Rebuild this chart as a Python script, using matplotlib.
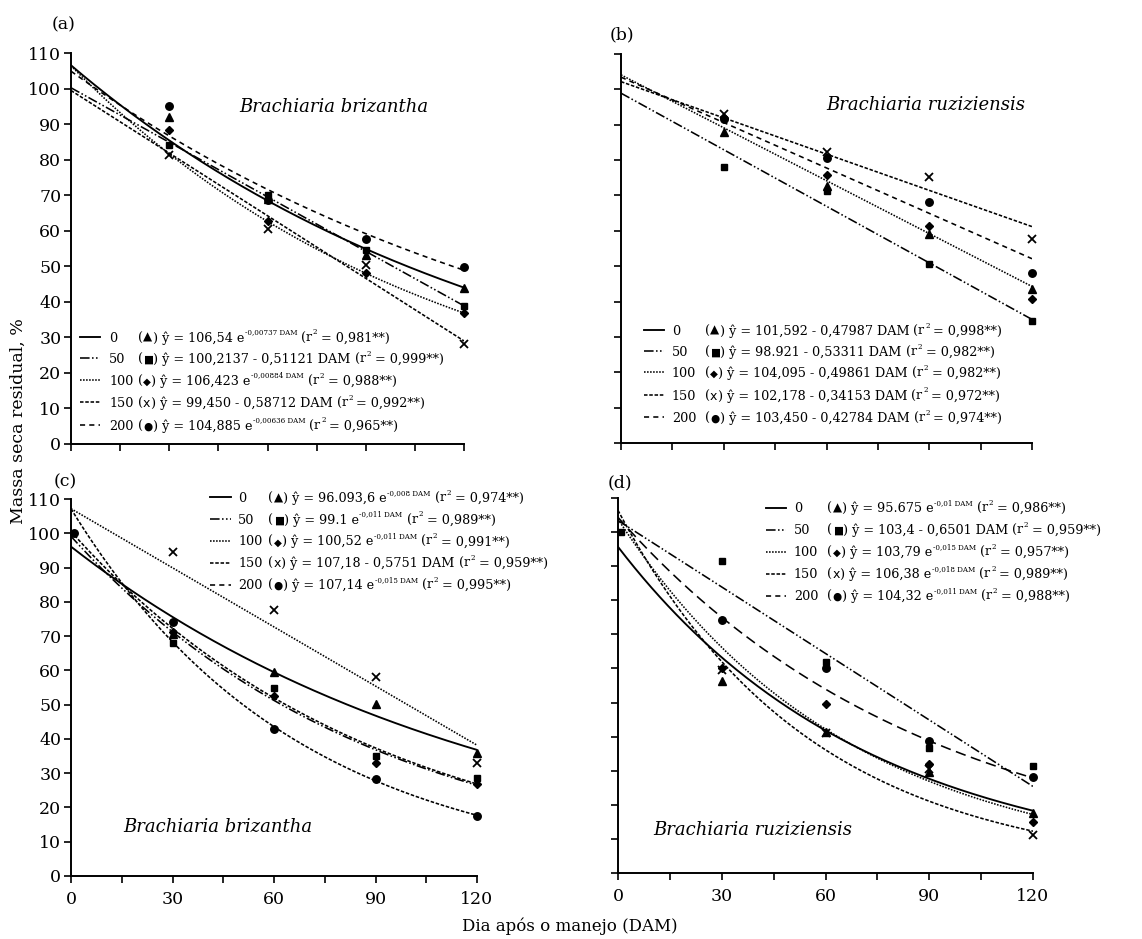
import matplotlib
matplotlib.use('Agg')
import matplotlib.pyplot as plt
import numpy as np

plt.rcParams['font.family'] = ['DejaVu Serif', 'DejaVu Sans']
plt.rcParams['mathtext.fontset'] = 'dejavuserif'

# ---------------- data ----------------
days = [30, 60, 90, 120]
day_start = 1
treatments = ['0', '50', '100', '150', '200']

# panel (a) Brachiaria brizantha
a_tri = [92.0, 69.0, 53.2, 43.8]
a_sq = [84.0, 70.1, 54.6, 38.9]
a_dia = [88.3, 62.8, 48.1, 36.8]
a_x = [81.2, 60.4, 50.4, 28.1]
a_circ = [95.2, 68.7, 57.7, 49.9]

# panel (b) Brachiaria ruziziensis
b_tri = [87.9, 72.8, 59.0, 43.5]
b_sq = [78.0, 71.4, 50.5, 34.5]
b_dia = [91.8, 75.8, 61.5, 40.7]
b_x = [93.1, 82.4, 75.1, 57.6]
b_circ = [91.5, 80.7, 68.2, 48.2]

# panel (c) Brachiaria brizantha
c_start_circ = 100.0
c_tri = [70.5, 59.6, 50.2, 35.8]
c_sq = [68.1, 54.9, 35.0, 28.6]
c_dia = [71.3, 52.6, 33.0, 26.8]
c_x = [94.4, 77.5, 58.0, 33.0]
c_circ = [74.0, 42.8, 28.3, 17.4]

# panel (d) Brachiaria ruziziensis
d_start_sq = 100.0
d_tri = [56.2, 41.5, 29.5, 17.6]
d_sq = [91.4, 61.9, 36.7, 31.5]
d_dia = [60.0, 49.7, 32.1, 15.0]
d_x = [59.5, 41.1, 30.5, 11.2]
d_circ = [74.2, 60.2, 38.8, 28.2]

# fitted models (kind, intercept, rate) per treatment, as drawn
a_kind = ['exp', 'lin', 'exp', 'lin', 'exp']
a_int = [106.54, 100.2137, 106.423, 99.450, 104.885]
a_rate = [0.00737, 0.51121, 0.00884, 0.58712, 0.00636]

b_kind = ['lin', 'lin', 'lin', 'lin']
b_int = [98.921, 104.095, 102.178, 103.450]
b_rate = [0.53311, 0.49861, 0.34153, 0.42784]

c_kind = ['exp', 'exp', 'exp', 'lin', 'exp']
c_int = [96.0936, 99.1, 100.52, 107.18, 107.14]
c_rate = [0.008, 0.011, 0.011, 0.5751, 0.015]

d_kind = ['exp', 'lin', 'exp', 'exp', 'exp']
d_int = [95.675, 103.4, 103.79, 106.38, 104.32]
d_rate = [0.0138, 0.6501, 0.015, 0.018, 0.011]

# legend equation texts: (main, superscript, r2)
a_eq = [('ŷ = 106,54 e', '-0,00737 DAM', '0,981'),
        ('ŷ = 100,2137 - 0,51121 DAM', '', '0,999'),
        ('ŷ = 106,423 e', '-0,00884 DAM', '0,988'),
        ('ŷ = 99,450 - 0,58712 DAM', '', '0,992'),
        ('ŷ = 104,885 e', '-0,00636 DAM', '0,965')]
b_eq = [('ŷ = 101,592 - 0,47987 DAM', '', '0,998'),
        ('ŷ = 98.921 - 0,53311 DAM', '', '0,982'),
        ('ŷ = 104,095 - 0,49861 DAM', '', '0,982'),
        ('ŷ = 102,178 - 0,34153 DAM', '', '0,972'),
        ('ŷ = 103,450 - 0,42784 DAM', '', '0,974')]
c_eq = [('ŷ = 96.093,6 e', '-0,008 DAM', '0,974'),
        ('ŷ = 99.1 e', '-0,011 DAM', '0,989'),
        ('ŷ = 100,52 e', '-0,011 DAM', '0,991'),
        ('ŷ = 107,18 - 0,5751 DAM', '', '0,959'),
        ('ŷ = 107,14 e', '-0,015 DAM', '0,995')]
d_eq = [('ŷ = 95.675 e', '-0,01 DAM', '0,986'),
        ('ŷ = 103,4 - 0,6501 DAM', '', '0,959'),
        ('ŷ = 103,79 e', '-0,015 DAM', '0,957'),
        ('ŷ = 106,38 e', '-0,018 DAM', '0,989'),
        ('ŷ = 104,32 e', '-0,011 DAM', '0,988')]

# ---------------- styles ----------------
LS_SOLID = '-'
LS_DDOT = (0, (6, 1.5, 1, 1.5, 1, 1.5))
LS_DOT = (0, (1, 0.9))
LS_SHORT = (0, (2.2, 1.1))
LS_DASH = (0, (3.2, 2.6))
LS_LONG = (0, (6.5, 3.5))
legend_styles = [LS_SOLID, LS_DDOT, LS_DOT, LS_SHORT, LS_DASH]
symbols = ['▲', '■', '◆', 'x', '●']
sym_sizes = [8.6, 7.6, 7.4, 9.0, 7.6]
markers = dict(tri=('^', 5.8), sq=('s', 5.0), dia=('D', 4.3), x=('x', 5.2), circ=('o', 5.4))

W, H = 1142, 939
fig = plt.figure(figsize=(W / 100, H / 100), dpi=100)


def add_ax(l, t, r, b):
    return fig.add_axes([l / W, 1 - b / H, (r - l) / W, (b - t) / H])


axA = add_ax(71, 53, 464, 444)
axB = add_ax(621, 54, 1032, 443)
axC = add_ax(71, 499, 477, 876)
axD = add_ax(618, 498, 1033, 873)

xx = np.linspace(0, 120, 200)


def model(kind, a, b):
    if kind == 'exp':
        return a * np.exp(-b * xx)
    return a - b * xx


def draw_models(ax, kinds, ints, rates, styles):
    for k, a, b, ls in zip(kinds, ints, rates, styles):
        lw = 1.35 if ls == '-' else 1.15
        ax.plot(xx, model(k, a, b), color='black', lw=lw, linestyle=ls, zorder=2)


def draw_points(ax, series):
    for key, vals in series:
        m, ms = markers[key]
        if key == 'x':
            ax.plot(days, vals, linestyle='none', marker=m, ms=ms, mew=1.3,
                    color='black', clip_on=False, zorder=4)
        else:
            ax.plot(days, vals, linestyle='none', marker=m, ms=ms, color='black',
                    mec='black', clip_on=False, zorder=4)


def style_axes(ax, xlabels, ylabels):
    ax.set_xlim(0, 120)
    ax.set_ylim(0, 110)
    for s in ['top', 'right']:
        ax.spines[s].set_visible(False)
    for s in ['left', 'bottom']:
        ax.spines[s].set_linewidth(1.4)
    ax.set_xticks(np.arange(0, 121, 15))
    if xlabels:
        ax.set_xticklabels([str(v) if v % 30 == 0 else '' for v in range(0, 121, 15)])
    else:
        ax.set_xticklabels([])
    ax.set_yticks(np.arange(0, 111, 10))
    if ylabels:
        ax.set_yticklabels([str(v) for v in range(0, 111, 10)])
    else:
        ax.set_yticklabels([])
    ax.tick_params(direction='out', length=5, width=1.2, labelsize=12.5, pad=2)
    ax.tick_params(axis='x', pad=6)


FS = 9.2
SUP = 5.1


def rich_row(ax, x, y, sym, ssize, main, sup, r2):
    t0 = ax.text(x, y, '(', transform=ax.transAxes, fontsize=FS, va='baseline', ha='left',
                 family='DejaVu Serif')
    if sym == 'x':
        s = ax.annotate('x', xy=(1, 0), xycoords=(t0, t0), xytext=(0.2, 0.0),
                        textcoords='offset points', fontsize=ssize, va='bottom',
                        family='DejaVu Sans')
    else:
        s = ax.annotate(sym, xy=(1, 0), xycoords=(t0, t0), xytext=(0.3, 0.7),
                        textcoords='offset points', fontsize=ssize, va='bottom',
                        family='DejaVu Sans')
    m = ax.annotate(') ' + main, xy=(1, 0), xycoords=(s, t0), xytext=(0.2, 0),
                    textcoords='offset points', fontsize=FS, va='bottom', family='DejaVu Serif')
    prev = m
    if sup:
        prev = ax.annotate(sup, xy=(1, 0), xycoords=(m, t0), xytext=(0.4, 6.0),
                           textcoords='offset points', fontsize=SUP, va='bottom',
                           family='DejaVu Serif')
    r = ax.annotate('(r', xy=(1, 0), xycoords=(prev, t0), xytext=(3.0, 0),
                    textcoords='offset points', fontsize=FS, va='bottom', family='DejaVu Serif')
    two = ax.annotate('2', xy=(1, 0), xycoords=(r, t0), xytext=(0.5, 6.0),
                      textcoords='offset points', fontsize=SUP, va='bottom', family='DejaVu Serif')
    ax.annotate('= ' + r2 + '**)', xy=(1, 0), xycoords=(two, t0), xytext=(2.5, 0),
                textcoords='offset points', fontsize=FS, va='bottom', family='DejaVu Serif')


def legend(ax, x_line, x_lab, x_eq, ys, eqs, styles):
    for i, (y, eq, ls) in enumerate(zip(ys, eqs, styles)):
        lw = 1.35 if ls == '-' else 1.15
        ax.plot([x_line[0], x_line[1]], [y + 0.012, y + 0.012], transform=ax.transAxes,
                color='black', lw=lw, linestyle=ls, clip_on=False)
        ax.text(x_lab, y, treatments[i], transform=ax.transAxes, fontsize=FS,
                va='baseline', ha='left')
        rich_row(ax, x_eq, y, symbols[i], sym_sizes[i], eq[0], eq[1], eq[2])


# ---------- panel (a)
draw_models(axA, a_kind, a_int, a_rate, [LS_SOLID, LS_DDOT, LS_DOT, LS_SHORT, LS_DASH])
draw_points(axA, [('tri', a_tri), ('sq', a_sq), ('dia', a_dia), ('x', a_x), ('circ', a_circ)])
style_axes(axA, False, True)
legend(axA, (0.023, 0.074), 0.097, 0.170, [0.262, 0.207, 0.151, 0.095, 0.037], a_eq,
       legend_styles)
axA.text(0.67, 0.862, 'Brachiaria brizantha', transform=axA.transAxes, fontsize=13,
         style='italic', ha='center', va='center')

# ---------- panel (b)
draw_models(axB, b_kind, b_int, b_rate, [LS_DDOT, LS_DOT, LS_SHORT, LS_DASH])
draw_points(axB, [('tri', b_tri), ('sq', b_sq), ('dia', b_dia), ('x', b_x), ('circ', b_circ)])
style_axes(axB, False, False)
legend(axB, (0.056, 0.105), 0.124, 0.204, [0.278, 0.224, 0.170, 0.111, 0.054], b_eq,
       legend_styles)
axB.text(0.742, 0.869, 'Brachiaria ruziziensis', transform=axB.transAxes, fontsize=13,
         style='italic', ha='center', va='center')

# ---------- panel (c)
draw_models(axC, c_kind, c_int, c_rate, [LS_SOLID, LS_DDOT, LS_SHORT, LS_DOT, LS_SHORT])
draw_points(axC, [('tri', c_tri), ('sq', c_sq), ('dia', c_dia), ('x', c_x), ('circ', c_circ)])
axC.plot([day_start], [c_start_circ], linestyle='none', marker='o', ms=5.4, color='black',
         clip_on=False, zorder=4)
style_axes(axC, True, True)
legend(axC, (0.342, 0.393), 0.412, 0.486, [0.992, 0.935, 0.877, 0.819, 0.761], c_eq,
       legend_styles)
axC.text(0.361, 0.13, 'Brachiaria brizantha', transform=axC.transAxes, fontsize=13,
         style='italic', ha='center', va='center')

# ---------- panel (d)
draw_models(axD, d_kind, d_int, d_rate, [LS_SOLID, LS_DDOT, LS_DOT, LS_SHORT, LS_LONG])
draw_points(axD, [('tri', d_tri), ('sq', d_sq), ('dia', d_dia), ('x', d_x), ('circ', d_circ)])
axD.plot([day_start], [d_start_sq], linestyle='none', marker='s', ms=5.0, color='black',
         clip_on=False, zorder=4)
style_axes(axD, True, False)
legend(axD, (0.357, 0.405), 0.424, 0.504, [0.962, 0.904, 0.845, 0.786, 0.728], d_eq,
       legend_styles)
axD.text(0.325, 0.115, 'Brachiaria ruziziensis', transform=axD.transAxes, fontsize=13,
         style='italic', ha='center', va='center')

# panel letters
for lab, px, py in [('(a)', 64, 25), ('(b)', 622, 35), ('(c)', 65, 482), ('(d)', 620, 483)]:
    fig.text(px / W, 1 - py / H, lab, fontsize=12.5, ha='center', va='center')

fig.text(570 / W, 1 - 926 / H, 'Dia após o manejo (DAM)', fontsize=12, ha='center',
         va='center')
fig.text(18 / W, 1 - 421 / H, 'Massa seca residual, %', fontsize=12.5, ha='center',
         va='center', rotation=90)

fig.savefig('out.png', dpi=100)
